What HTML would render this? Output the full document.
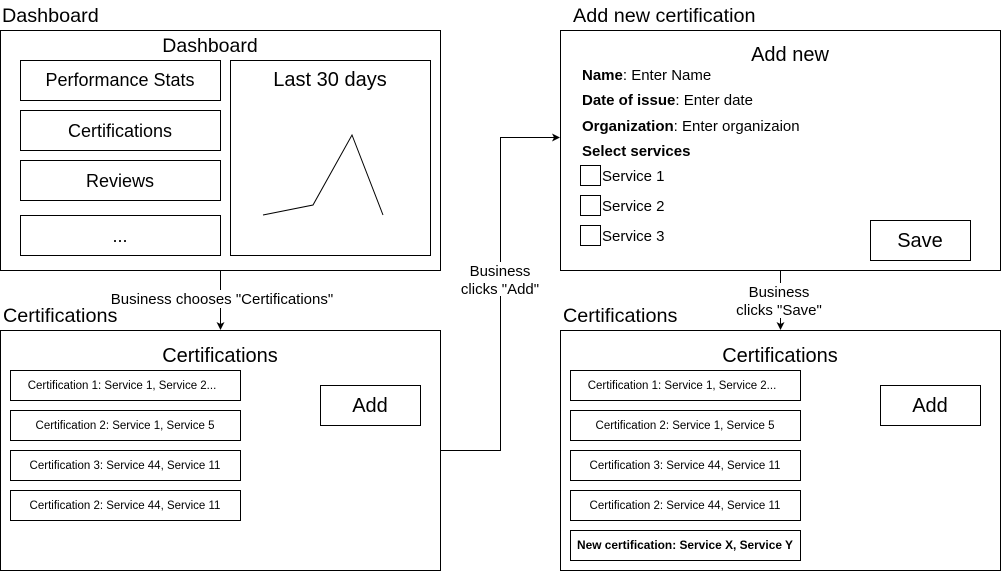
<!DOCTYPE html>
<html><head><meta charset="utf-8"><style>
html,body{margin:0;padding:0;background:#fff;}
svg{display:block;}
text{font-family:"Liberation Sans",Helvetica,Arial,sans-serif;fill:#000;}
</style></head><body>
<svg width="1001" height="571" viewBox="0 0 1001 571" xmlns="http://www.w3.org/2000/svg">
<defs><marker id="a" markerWidth="8" markerHeight="8" refX="7" refY="4" orient="auto" markerUnits="userSpaceOnUse"><path d="M0,0 L8,4 L0,8 L2,4 Z" fill="#000"/></marker></defs>
<g fill="none" stroke="#000" stroke-width="1">
<rect x="0.5" y="30.5" width="440" height="240"/>
<rect x="20.5" y="60.5" width="200" height="40"/>
<rect x="20.5" y="110.5" width="200" height="40"/>
<rect x="20.5" y="160.5" width="200" height="40"/>
<rect x="20.5" y="215.5" width="200" height="40"/>
<rect x="230.5" y="60.5" width="200" height="195"/>
<polyline points="263,215 313,205 352,135 383,215"/>
<rect x="0.5" y="330.5" width="440" height="240"/>
<rect x="10.5" y="370.5" width="230" height="30"/>
<rect x="10.5" y="410.5" width="230" height="30"/>
<rect x="10.5" y="450.5" width="230" height="30"/>
<rect x="10.5" y="490.5" width="230" height="30"/>
<rect x="320.5" y="385.5" width="100" height="40"/>
<rect x="560.5" y="30.5" width="440" height="240"/>
<rect x="580.5" y="165.5" width="20" height="20"/>
<rect x="580.5" y="195.5" width="20" height="20"/>
<rect x="580.5" y="225.5" width="20" height="20"/>
<rect x="870.5" y="220.5" width="100" height="40"/>
<rect x="560.5" y="330.5" width="440" height="240"/>
<rect x="570.5" y="370.5" width="230" height="30"/>
<rect x="570.5" y="410.5" width="230" height="30"/>
<rect x="570.5" y="450.5" width="230" height="30"/>
<rect x="570.5" y="490.5" width="230" height="30"/>
<rect x="570.5" y="530.5" width="230" height="30"/>
<rect x="880.5" y="385.5" width="100" height="40"/>
<line x1="220.5" y1="271" x2="220.5" y2="290"/>
<line x1="220.5" y1="308" x2="220.5" y2="329" marker-end="url(#a)"/>
<polyline points="441,450.5 500.5,450.5 500.5,296"/>
<polyline points="500.5,262 500.5,137.5 559,137.5" marker-end="url(#a)"/>
<line x1="780.5" y1="271" x2="780.5" y2="283"/>
<line x1="780.5" y1="318" x2="780.5" y2="329" marker-end="url(#a)"/>
</g>
<text x="2" y="22" font-size="19.8">Dashboard</text>
<text x="3" y="322" font-size="19.8">Certifications</text>
<text x="573" y="22" font-size="19.8">Add new certification</text>
<text x="563" y="322" font-size="19.8">Certifications</text>
<g text-anchor="middle">
<text x="210" y="52" font-size="19.5">Dashboard</text>
<text x="120" y="86" font-size="18">Performance Stats</text>
<text x="120" y="137" font-size="18">Certifications</text>
<text x="120" y="187" font-size="18">Reviews</text>
<text x="120" y="242" font-size="18">...</text>
<text x="330" y="86" font-size="20">Last 30 days</text>
<text x="220" y="362" font-size="20">Certifications</text>
<text x="122" y="389" font-size="11.5">Certification 1: Service 1, Service 2...</text>
<text x="125" y="429" font-size="11.5">Certification 2: Service 1, Service 5</text>
<text x="125" y="469" font-size="11.5">Certification 3: Service 44, Service 11</text>
<text x="125" y="509" font-size="11.5">Certification 2: Service 44, Service 11</text>
<text x="370" y="412" font-size="20">Add</text>
<text x="790" y="61" font-size="20">Add new</text>
<text x="920" y="247" font-size="20">Save</text>
<text x="780" y="362" font-size="20">Certifications</text>
<text x="682" y="389" font-size="11.5">Certification 1: Service 1, Service 2...</text>
<text x="685" y="429" font-size="11.5">Certification 2: Service 1, Service 5</text>
<text x="685" y="469" font-size="11.5">Certification 3: Service 44, Service 11</text>
<text x="685" y="509" font-size="11.5">Certification 2: Service 44, Service 11</text>
<text x="685" y="549" font-size="11.9" font-weight="bold">New certification: Service X, Service Y</text>
<text x="222" y="304" font-size="15">Business chooses "Certifications"</text>
<text x="500" y="276" font-size="15">Business</text>
<text x="500" y="294" font-size="15">clicks "Add"</text>
<text x="779" y="297" font-size="15">Business</text>
<text x="779" y="315" font-size="15">clicks "Save"</text>
</g>
<text x="930" y="412" font-size="20" text-anchor="middle">Add</text>
<g font-size="15">
<text x="582" y="80"><tspan font-weight="bold">Name</tspan>:  Enter Name</text>
<text x="582" y="105"><tspan font-weight="bold">Date of issue</tspan>: Enter date</text>
<text x="582" y="131"><tspan font-weight="bold">Organization</tspan>: Enter organizaion</text>
<text x="582" y="156" font-weight="bold">Select services</text>
<text x="602" y="181">Service 1</text>
<text x="602" y="211">Service 2</text>
<text x="602" y="241">Service 3</text>
</g>
</svg>
</body></html>
